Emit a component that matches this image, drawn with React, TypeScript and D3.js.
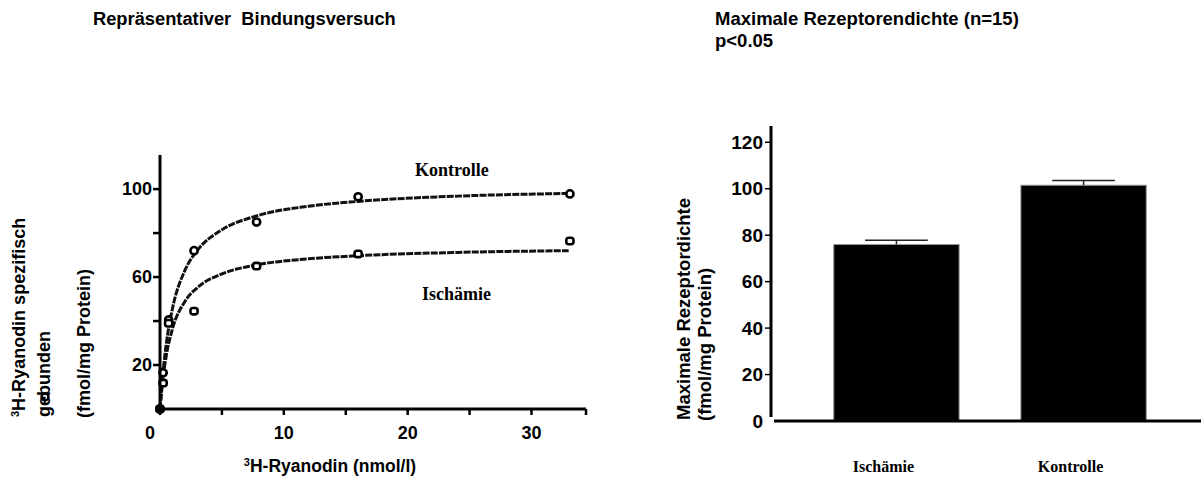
import React from 'react'
import * as d3 from 'd3'

// left panel: representative binding experiment
const concentration = [0, 0.25, 0.7, 2.75, 7.8, 16, 33.1]
const kontrollePoints = [0, 16.5, 40.5, 72, 85, 96.5, 97.8]
const ischaemiePoints = [0, 11.8, 39, 44.5, 65, 70.5, 76.4]

// fitted saturation curves
const curveX = [0, 0.25, 0.5, 1, 2, 3, 5, 7.8, 12, 16, 24, 33]
const kontrolleCurve = [0, 17, 29.3, 45.5, 62.9, 72, 81.5, 87.8, 92.2, 94.4, 96.8, 98]
const ischaemieCurve = [0, 14.3, 24, 36.3, 48.8, 55.1, 61.4, 65.5, 68.3, 69.7, 71.2, 72]

const xTicksLeft = [0, 5, 10, 15, 20, 25, 30]
const xLabelsLeft = [0, 10, 20, 30]
const yTicksLeft = [20, 40, 60, 80, 100]
const yLabelsLeft = [20, 60, 100]

// right panel: maximal receptor density
const groups = ['Ischämie', 'Kontrolle']
const bmax = [76, 101.5]
const sem = [1.8, 2]
const yTicksRight = [0, 20, 40, 60, 80, 100, 120]

const sans = '"Liberation Sans", Arial, sans-serif'
const serif = '"Liberation Serif", "Times New Roman", serif'

export default function App() {
    // scales for the binding curve
    const x = d3.scaleLinear().domain([0, 34.4]).range([160, 586])
    const y = d3.scaleLinear().domain([0, 115.5]).range([409, 155])

    const line = d3.line<number>()
        .x((d, i) => x(curveX[i]))
        .y(d => y(d))
        .curve(d3.curveMonotoneX)

    // scales for the bar chart
    const xb = d3.scaleBand<string>().domain(groups).range([772, 1208]).padding(0.33)
    const yb = d3.scaleLinear().domain([0, 127]).range([421, 126])

    return (
        <svg width={1201} height={486} style={{ position: 'absolute', left: 0, top: 0, background: '#fff' }}>
            {/* titles */}
            <text x={93} y={25} fontFamily={sans} fontWeight="bold" fontSize={18.3}>
                {'Repräsentativer\u00a0 Bindungsversuch'}
            </text>
            <text x={715} y={25} fontFamily={sans} fontWeight="bold" fontSize={18.5}>
                Maximale Rezeptorendichte (n=15)
            </text>
            <text x={715} y={47} fontFamily={sans} fontWeight="bold" fontSize={18.5}>p&lt;0.05</text>

            {/* ---------- left panel ---------- */}
            <g fontFamily={sans} fontWeight="bold" fontSize={18}>
                <text transform="translate(25,417) rotate(-90)">
                    <tspan fontSize={11} dy={-6}>3</tspan>
                    <tspan dy={6}>H-Ryanodin spezifisch</tspan>
                </text>
                <text transform="translate(50,417) rotate(-90)">gebunden</text>
                <circle cx={45} cy={397} r={3.5} fill="none" stroke="#000" strokeWidth={2.5} />
                <text transform="translate(90,418) rotate(-90)">(fmol/mg Protein)</text>

                <text x={330} y={472} textAnchor="middle" fontSize={17.5}>
                    <tspan fontSize={11} dy={-6}>3</tspan>
                    <tspan dy={6}>H-Ryanodin (nmol/l)</tspan>
                </text>
            </g>

            <path d={line(kontrolleCurve) || ''} fill="none" stroke="#111" strokeWidth={3} strokeDasharray="7 1.2" />
            <path d={line(ischaemieCurve) || ''} fill="none" stroke="#111" strokeWidth={3} strokeDasharray="7 1.2" />

            {concentration.map((c, i) => (
                <circle key={'k' + i} cx={x(c)} cy={y(kontrollePoints[i])} r={3.6}
                    fill="#fff" stroke="#000" strokeWidth={2.6} />
            ))}
            {concentration.map((c, i) => (
                <rect key={'i' + i} x={x(c) - 3.6} y={y(ischaemiePoints[i]) - 3.2} width={7.2} height={6.4} rx={2.5}
                    fill="#fff" stroke="#000" strokeWidth={2.6} />
            ))}
            <circle cx={x(0)} cy={y(0)} r={4} fill="#000" />

            {/* axes */}
            <line x1={x(0)} x2={x(0)} y1={y(115.5)} y2={y(0)} stroke="#000" strokeWidth={3} />
            <line x1={x(0)} x2={x(34.4)} y1={y(0)} y2={y(0)} stroke="#000" strokeWidth={3} />
            {yTicksLeft.map(t => (
                <line key={t} x1={x(0) - 7} x2={x(0)} y1={y(t)} y2={y(t)} stroke="#000" strokeWidth={2.5} />
            ))}
            {xTicksLeft.concat([34.4]).map(t => (
                <line key={t} x1={x(t)} x2={x(t)} y1={y(0)} y2={y(0) + 6} stroke="#000" strokeWidth={2.5} />
            ))}
            <g fontFamily={sans} fontWeight="bold" fontSize={18}>
                {yLabelsLeft.map(t => (
                    <text key={t} x={x(0) - 8} y={y(t)} dy="0.35em" textAnchor="end">{t}</text>
                ))}
                {xLabelsLeft.map(t => (
                    <text key={t} x={x(t) - (t === 0 ? 10 : 0)} y={439} textAnchor="middle">{t}</text>
                ))}
            </g>
            <g fontFamily={serif} fontWeight="bold" fontSize={18}>
                <text x={415} y={176}>Kontrolle</text>
                <text x={422} y={300}>Ischämie</text>
            </g>

            {/* ---------- right panel ---------- */}
            <g fontFamily={sans} fontWeight="bold" fontSize={18.5}>
                <text transform="translate(690,420) rotate(-90)">Maximale Rezeptordichte</text>
                <text transform="translate(711,421) rotate(-90)">(fmol/mg Protein)</text>
            </g>

            {groups.map((g, i) => (
                <g key={g}>
                    <rect x={xb(g)} y={yb(bmax[i])} width={xb.bandwidth()} height={yb(0) - yb(bmax[i])}
                        fill="#000" stroke="#999" strokeWidth={1} />
                    <line x1={(xb(g) || 0) + xb.bandwidth() / 2} x2={(xb(g) || 0) + xb.bandwidth() / 2}
                        y1={yb(bmax[i])} y2={yb(bmax[i] + sem[i])} stroke="#222" strokeWidth={1.5} />
                    <line x1={(xb(g) || 0) + xb.bandwidth() / 4} x2={(xb(g) || 0) + xb.bandwidth() * 3 / 4}
                        y1={yb(bmax[i] + sem[i])} y2={yb(bmax[i] + sem[i])} stroke="#222" strokeWidth={1.5} />
                    <text x={(xb(g) || 0) + xb.bandwidth() / 2 - 13} y={472} textAnchor="middle"
                        fontFamily={serif} fontWeight="bold" fontSize={16}>{g}</text>
                </g>
            ))}

            <line x1={771} x2={771} y1={yb(127)} y2={417} stroke="#000" strokeWidth={3} />
            <line x1={774} x2={1201} y1={yb(0)} y2={yb(0)} stroke="#000" strokeWidth={3} />
            {yTicksRight.filter(t => t > 0).map(t => (
                <line key={t} x1={765} x2={771} y1={yb(t)} y2={yb(t)} stroke="#000" strokeWidth={1.5} />
            ))}
            <g fontFamily={sans} fontWeight="bold" fontSize={19}>
                {yTicksRight.map(t => (
                    <text key={t} x={763} y={yb(t)} dy="0.35em" textAnchor="end">{t}</text>
                ))}
            </g>
        </svg>
    )
}
